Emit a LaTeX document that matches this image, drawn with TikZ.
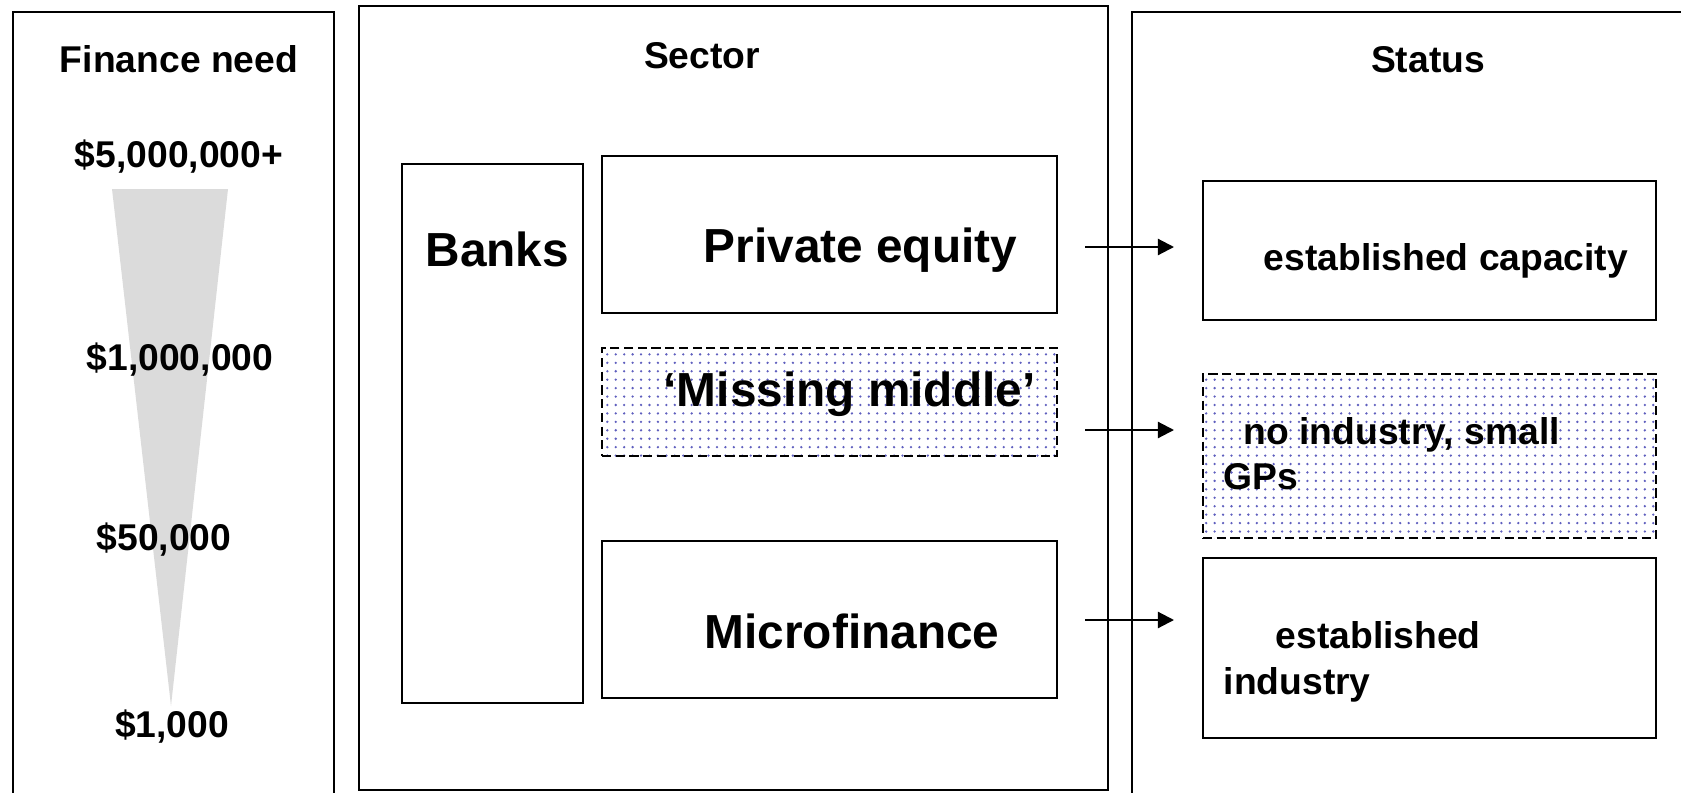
\documentclass[tikz,border=0pt]{standalone}
\usepackage{fontspec}
\setmainfont{Liberation Sans}
\usetikzlibrary{arrows.meta}
\usetikzlibrary{fit}
\usetikzlibrary{patterns.meta}
\tikzdeclarepattern{
  name=gapdots,
  type=uncolored,
  bottom left={(-.6pt,-.6pt)},
  top right={(1.9pt,1.9pt)},
  tile size={(2.4pt,2.4pt)},
  code={\fill (0pt,0pt) circle (.37pt);}
}
\definecolor{dotblue}{RGB}{95,95,190}
\tikzset{%
  mybox/.style={draw=black, line width=0.6pt, inner sep=0pt},
  mygap/.style={mybox, dash pattern=on 2.6pt off 1.3pt, pattern=gapdots, pattern color=dotblue},
  myedge/.style={-{Triangle[length=4.6pt, width=4.6pt]}, line width=0.6pt},
  mytext/.style={font=\fontsize{10.6}{12.7}\selectfont\bfseries, inner sep=0pt},
  mybig/.style={font=\fontsize{13.6}{16.3}\selectfont\bfseries, inner sep=0pt}
}

\begin{document}
\begin{tikzpicture}[x=0.1mm, y=-0.1mm]
\useasboundingbox (0,0) rectangle (1681,793);

% drei Spalten
\draw [line width=0.6pt] (13,820) -- (13,12) -- (334,12) -- (334,820);
\draw [line width=0.6pt] (359,6) rectangle (1108,790);
\draw [line width=0.6pt] (1700,12) -- (1132,12) -- (1132,820);

\node (HF) [mytext, anchor=base] at (179,73) {Finance need};
\node (HS) [mytext, anchor=base] at (702,68) {Sector};
\node (HT) [mytext, anchor=base] at (1428,73) {Status};

% Keil
\fill [black!14] (112,189) -- (228,189) -- (171,706) -- cycle;

\node (V1) [mytext, anchor=base] at (179,167) {\$5,000,000+};
\node (V2) [mytext, anchor=base] at (180,370) {\$1,000,000};
\node (V3) [mytext, anchor=base] at (164,550) {\$50,000};
\node (V4) [mytext, anchor=base] at (172,737) {\$1,000};

% Sektoren
\node (BK) [mybox, fit={(402,164) (583,703)}] {};
\node (PE) [mybox, fit={(602,156) (1057,313)}] {};
\node (MM) [mygap, fit={(602,348) (1057,456)}] {};
\node (MF) [mybox, fit={(602,541) (1057,698)}] {};

\node (tBK) [mybig, anchor=base west] at (425,266) {Banks};
\node (tPE) [mybig, anchor=base west] at (703,262) {Private equity};
\node (tMM) [mybig, anchor=base west] at (663,406) {‘Missing middle’};
\node (tMF) [mybig, anchor=base west] at (704,648) {Microfinance};

% Status
\node (CP) [mybox, fit={(1203,181) (1656,320)}] {};
\node (NI) [mygap, fit={(1203,374) (1656,538)}] {};
\node (EI) [mybox, fit={(1203,558) (1656,738)}] {};

\node (tCP) [mytext, anchor=base west] at (1263,270) {established capacity};
\node (tNIa) [mytext, anchor=base west] at (1243,444) {no industry, small};
\node (tNIb) [mytext, anchor=base west] at (1223,489) {GPs};
\node (tEIa) [mytext, anchor=base west] at (1275,648) {established};
\node (tEIb) [mytext, anchor=base west] at (1223,694) {industry};

% Pfeile
\foreach \i/\y in {1/247, 2/430, 3/620} {
  \coordinate (S\i) at (1085,\y);
  \coordinate (E\i) at (1174,\y);
  \draw [myedge] (S\i) -- (E\i);
}
\end{tikzpicture}
\end{document}
